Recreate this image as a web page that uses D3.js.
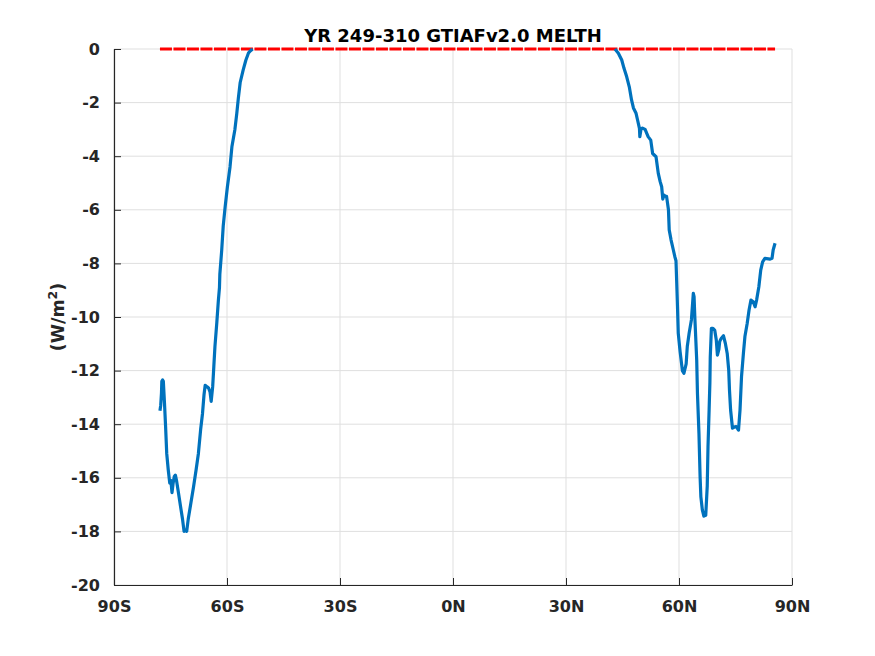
<!DOCTYPE html>
<html>
<head>
<meta charset="utf-8">
<script src="https://cdn.jsdelivr.net/npm/d3@7"></script>
<style>
  body { margin: 0; background: #fff; }
  text { font-family: 'DejaVu Sans', sans-serif; font-weight: bold; fill: #262626; }
</style>
</head>
<body>
<div id="chart-area"></div>
<script>
// southern hemisphere melt flux (lat, W/m2)
const southLat = [-77.8, -77.6, -77.4, -77.3, -77.1, -76.9, -76.6, -76.3, -76.0, -75.6, -75.2, -74.9, -74.6, -74.3, -74.0, -73.7, -73.4, -72.9, -72.3, -71.8, -71.4, -71.0, -70.7, -70.3, -69.6, -68.9, -68.2, -67.6, -67.0, -66.5, -66.1, -65.8, -65.3, -64.9, -64.5, -64.2, -63.8, -63.5, -63.2, -62.7, -62.3, -62.0, -61.9, -61.4, -61.0, -60.5, -59.9, -59.2, -58.7, -57.9, -57.4, -57.0, -56.5, -55.7, -55.0, -54.3, -53.9, -53.2];
const southVal = [-13.5, -13.3, -12.85, -12.4, -12.35, -12.4, -13.2, -14.1, -15.1, -15.7, -16.2, -16.1, -16.55, -16.2, -15.95, -15.9, -16.1, -16.55, -17.1, -17.55, -18.0, -17.95, -18.0, -17.55, -16.95, -16.35, -15.7, -15.1, -14.2, -13.6, -12.9, -12.55, -12.6, -12.65, -12.8, -13.15, -12.6, -11.85, -11.1, -10.2, -9.4, -8.9, -8.4, -7.5, -6.6, -5.9, -5.15, -4.4, -3.65, -3.0, -2.4, -1.85, -1.25, -0.78, -0.42, -0.15, -0.08, 0];

// northern hemisphere melt flux
const northLat = [43.0, 43.9, 44.8, 45.4, 46.1, 46.8, 47.4, 47.9, 48.6, 49.0, 49.5, 49.6, 49.9, 50.3, 51.0, 51.8, 52.5, 53.0, 53.9, 54.5, 55.0, 55.4, 55.7, 56.0, 56.4, 56.7, 57.2, 57.4, 57.9, 58.5, 58.9, 59.2, 59.4, 59.6, 59.8, 60.3, 60.9, 61.3, 61.9, 62.2, 62.7, 63.3, 63.8, 64.0, 64.2, 64.7, 64.9, 65.3, 65.6, 65.8, 66.2, 66.6, 67.1, 67.5, 67.7, 68.0, 68.2, 68.3, 68.6, 69.0, 69.5, 69.9, 70.2, 70.6, 70.8, 71.2, 71.8, 72.3, 72.8, 73.2, 73.4, 73.7, 74.2, 74.8, 75.2, 75.8, 76.2, 76.6, 77.1, 77.5, 78.1, 78.6, 79.1, 79.7, 80.2, 80.6, 81.2, 81.7, 82.2, 82.8, 84.2, 84.7, 85.0, 85.5];
const northVal = [0, -0.16, -0.41, -0.72, -1.03, -1.41, -1.9, -2.2, -2.4, -2.65, -2.96, -3.27, -3.0, -2.95, -3.0, -3.27, -3.4, -3.9, -4.02, -4.64, -4.95, -5.14, -5.6, -5.45, -5.5, -5.5, -6.0, -6.75, -7.13, -7.5, -7.75, -7.9, -8.74, -9.62, -10.6, -11.3, -12.0, -12.1, -11.75, -11.1, -10.6, -10.1, -9.12, -9.24, -10.0, -11.6, -12.85, -14.35, -15.95, -16.7, -17.2, -17.43, -17.4, -16.3, -14.85, -13.45, -12.45, -11.5, -10.42, -10.42, -10.5, -10.86, -11.42, -11.2, -10.92, -10.8, -10.7, -10.98, -11.36, -11.98, -12.72, -13.47, -14.15, -14.1, -14.09, -14.22, -13.47, -12.22, -11.36, -10.73, -10.24, -9.74, -9.37, -9.43, -9.62, -9.37, -8.87, -8.25, -7.94, -7.81, -7.84, -7.81, -7.5, -7.25];

// zero reference line extent
const zeroLat = [-77.8, 85.5];
const zeroVal = [0, 0];

const xTicks = [-90, -60, -30, 0, 30, 60, 90];
const xTickLabels = ['90S', '60S', '30S', '0N', '30N', '60N', '90N'];
const yTicks = [-20, -18, -16, -14, -12, -10, -8, -6, -4, -2, 0];

const titleText = 'YR 249-310 GTIAFv2.0 MELTH';

let width = 875;
let height = 656;
let padding = { left: 114, top: 49, right: 83, bottom: 71 };

let xScale = d3.scaleLinear().domain([-90, 90]).range([padding.left, width - padding.right]);
let yScale = d3.scaleLinear().domain([-20, 0]).range([height - padding.bottom, padding.top]);

let chart = d3
  .select('#chart-area')
  .append('svg')
  .attr('width', width)
  .attr('height', height);

//grid
let grid = chart.append('g').attr('id', 'grid');
grid
  .selectAll('line.vx')
  .data(xTicks)
  .enter()
  .append('line')
  .attr('x1', (d) => xScale(d))
  .attr('x2', (d) => xScale(d))
  .attr('y1', yScale(-20))
  .attr('y2', yScale(0))
  .attr('stroke', '#dfdfdf')
  .attr('stroke-width', 1);
grid
  .selectAll('line.hy')
  .data(yTicks)
  .enter()
  .append('line')
  .attr('x1', xScale(-90))
  .attr('x2', xScale(90))
  .attr('y1', (d) => yScale(d))
  .attr('y2', (d) => yScale(d))
  .attr('stroke', '#dfdfdf')
  .attr('stroke-width', 1);

//axes
let xAxis = d3
  .axisBottom(xScale)
  .tickValues(xTicks)
  .tickFormat((d, i) => xTickLabels[i])
  .tickSizeInner(-7)
  .tickSizeOuter(0)
  .tickPadding(16);
let yAxis = d3
  .axisLeft(yScale)
  .tickValues(yTicks)
  .tickFormat((d) => `${d}`)
  .tickSizeInner(-7)
  .tickSizeOuter(0)
  .tickPadding(14);

let gx = chart
  .append('g')
  .attr('transform', `translate(0, ${height - padding.bottom})`)
  .call(xAxis);
let gy = chart
  .append('g')
  .attr('transform', `translate(${padding.left}, 0)`)
  .call(yAxis);
[gx, gy].forEach((g) => {
  g.select('.domain').attr('stroke', '#262626').attr('stroke-width', 1.2);
  g.selectAll('.tick line').attr('stroke', '#262626').attr('stroke-width', 1);
  g.selectAll('.tick text')
    .attr('font-size', '16px')
    .attr('font-family', "'DejaVu Sans', sans-serif")
    .attr('font-weight', 'bold')
    .attr('fill', '#262626');
});

//lines
let line = d3
  .line()
  .x((d) => xScale(d[0]))
  .y((d) => yScale(d[1]));

chart
  .append('path')
  .datum(zeroLat.map((d, i) => [d, zeroVal[i]]))
  .attr('d', line)
  .attr('fill', 'none')
  .attr('stroke', '#ff0000')
  .attr('stroke-width', 3)
  .attr('stroke-dasharray', '12,1.5');

[
  [southLat, southVal],
  [northLat, northVal],
].forEach(([lat, val]) => {
  chart
    .append('path')
    .datum(lat.map((d, i) => [d, val[i]]))
    .attr('d', line)
    .attr('fill', 'none')
    .attr('stroke', '#0072bd')
    .attr('stroke-width', 3.2)
    .attr('stroke-linejoin', 'round');
});

//title
chart
  .append('text')
  .attr('x', (xScale(-90) + xScale(90)) / 2)
  .attr('y', padding.top - 7)
  .attr('text-anchor', 'middle')
  .attr('font-size', '18px')
  .style('fill', '#000')
  .text(titleText);

//y label
let ylab = chart
  .append('text')
  .attr('text-anchor', 'middle')
  .attr('font-size', '17.5px')
  .attr('transform', `translate(64, ${(yScale(0) + yScale(-20)) / 2}) rotate(-90)`);
ylab.append('tspan').text('(W/m');
ylab.append('tspan').attr('dy', -7).attr('font-size', '12.5px').text('2');
ylab.append('tspan').attr('dy', 7).text(')');
</script>
</body>
</html>
